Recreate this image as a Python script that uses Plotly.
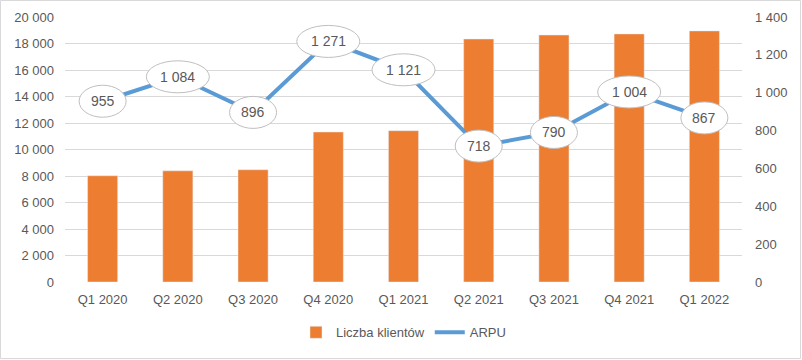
import plotly.graph_objects as go

categories = ["Q1 2020", "Q2 2020", "Q3 2020", "Q4 2020", "Q1 2021",
              "Q2 2021", "Q3 2021", "Q4 2021", "Q1 2022"]
klienci = [8020, 8390, 8470, 11320, 11420, 18340, 18640, 18720, 18950]
arpu = [955, 1084, 896, 1271, 1121, 718, 790, 1004, 867]
left_ticks = list(range(0, 20001, 2000))
right_ticks = list(range(0, 1401, 200))


def fmt(v):
    return f"{v:,}".replace(",", " ")


FONT = "Liberation Sans"
TXT = "#595959"

fig = go.Figure()
fig.add_trace(go.Bar(x=categories, y=klienci, name="Liczba klientów",
                     marker_color="#ED7D31", yaxis="y"))
fig.add_trace(go.Scatter(x=categories, y=arpu, name="ARPU", mode="lines",
                         line=dict(color="#5B9BD5", width=4), yaxis="y2"))

shapes = []
annotations = []
for i, v in enumerate(arpu):
    label = fmt(v)
    w = 47 if len(label) <= 3 else 63
    shapes.append(dict(type="circle", xref="x", yref="y2", xsizemode="pixel",
                       ysizemode="pixel", xanchor=i, yanchor=v,
                       x0=-w / 2, x1=w / 2, y0=-16, y1=16,
                       line=dict(color="#BFBFBF", width=1), fillcolor="white",
                       layer="above"))
    annotations.append(dict(x=i, y=v, xref="x", yref="y2", text=label,
                            showarrow=False, font=dict(family=FONT, size=14, color=TXT)))

W, H = 802, 360
ml, mr, mt, mb = 65, 60, 17, 78
pw, ph = W - ml - mr, H - mt - mb
shapes.append(dict(type="rect", xref="paper", yref="paper",
                   x0=-(ml - 0.5) / pw, x1=1 + (mr - 1.5) / pw,
                   y0=-(mb - 1.5) / ph, y1=1 + (mt - 0.5) / ph,
                   line=dict(color="#D9D9D9", width=1), layer="below"))

fig.update_layout(
    width=W, height=H,
    margin=dict(l=ml, r=mr, t=mt, b=mb, autoexpand=False),
    paper_bgcolor="white", plot_bgcolor="white",
    font=dict(family=FONT, size=13, color=TXT),
    bargap=0.6,
    showlegend=True,
    legend=dict(orientation="h", x=0.5, xanchor="center", y=-0.19, yanchor="middle",
                font=dict(family=FONT, size=13, color=TXT)),
    xaxis=dict(type="category", showgrid=False, showline=False, ticks="",
               ticklabelstandoff=8),
    yaxis=dict(range=[0, 20000], tickvals=left_ticks,
               ticktext=[fmt(t) for t in left_ticks],
               showgrid=True, gridcolor="#D9D9D9", zeroline=False,
               showline=False, ticklabelstandoff=10),
    yaxis2=dict(range=[0, 1400], tickvals=right_ticks,
                ticktext=[fmt(t) for t in right_ticks], overlaying="y",
                side="right", showgrid=False, zeroline=False, showline=False,
                ticklabelstandoff=12),
    shapes=shapes,
    annotations=annotations,
)

fig.write_html("out.html", config={"displayModeBar": False},
               post_script="document.body.style.margin='0';document.body.style.padding='0';")
